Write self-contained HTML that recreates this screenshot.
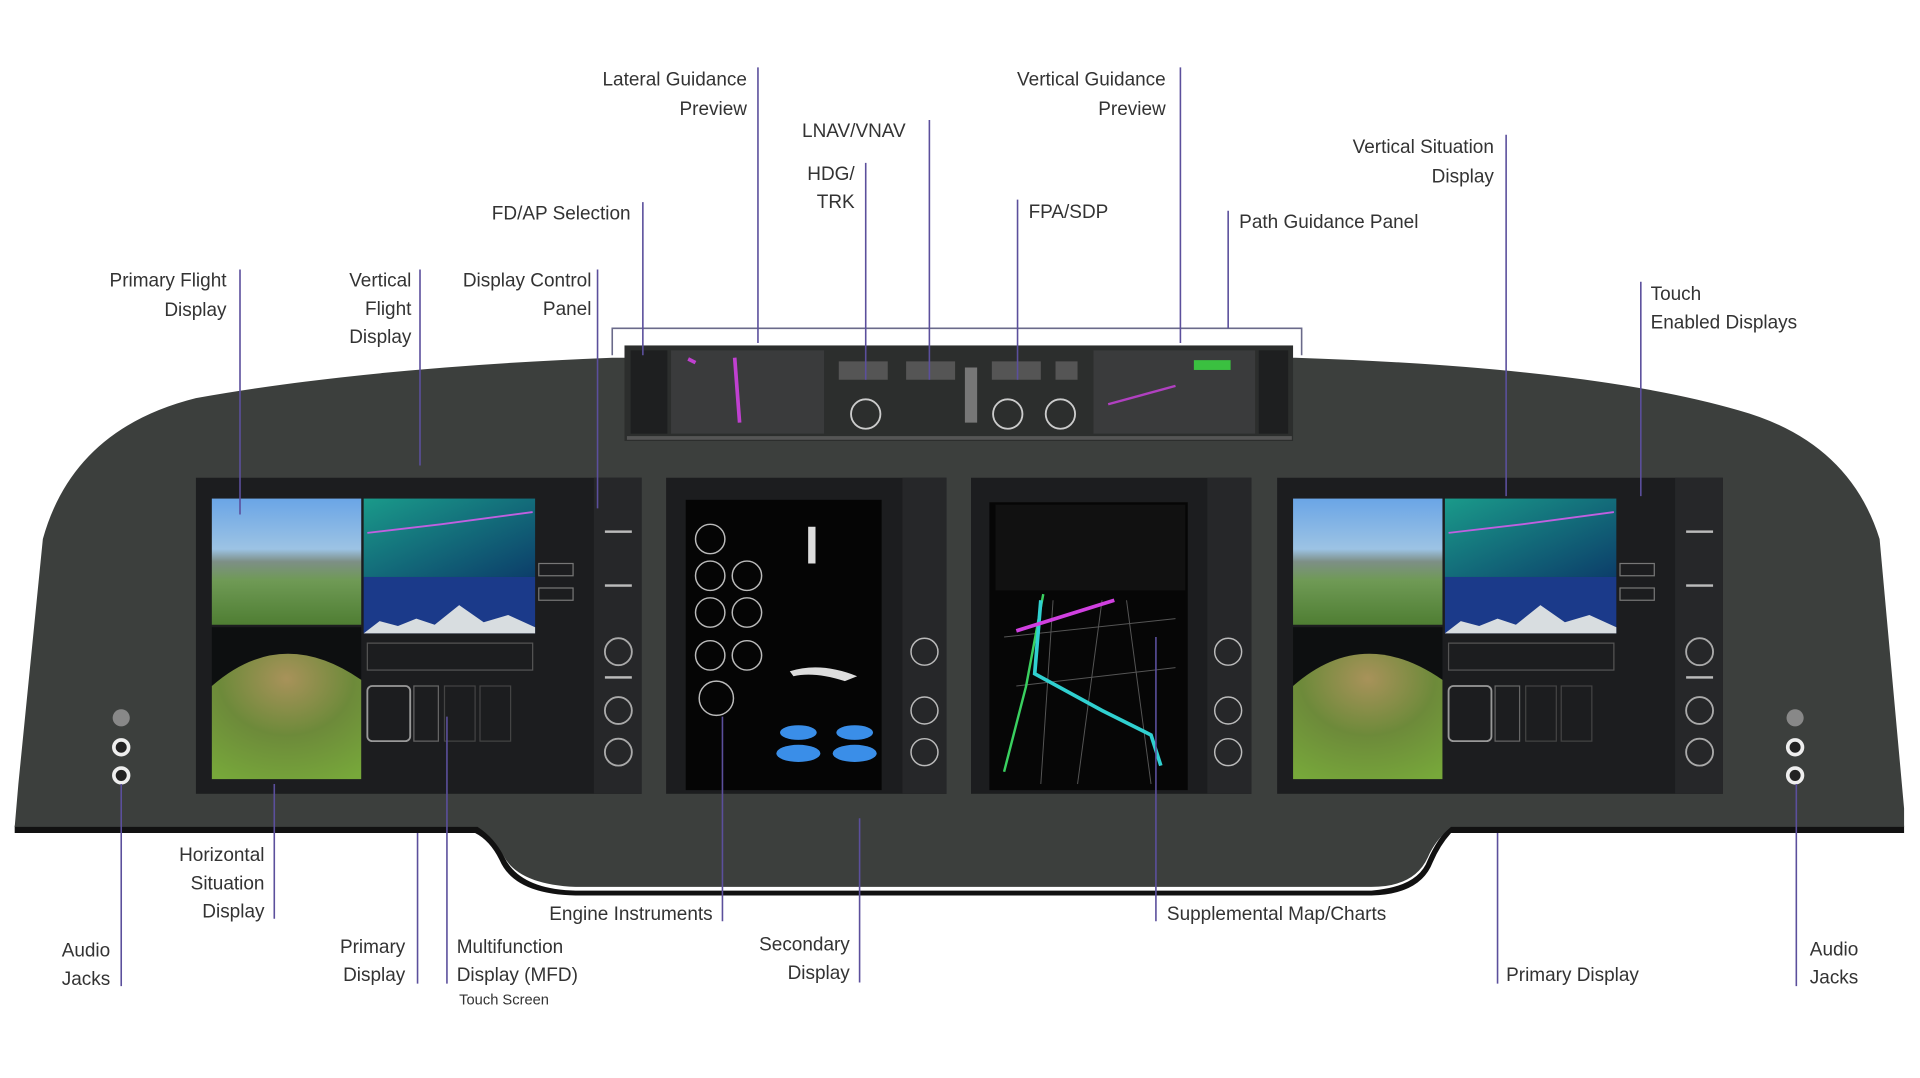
<!DOCTYPE html>
<html><head><meta charset="utf-8"><style>
html,body{margin:0;padding:0;background:#fff;overflow:hidden}
svg{display:block}
text{font-family:"Liberation Sans",sans-serif;font-size:15.5px;fill:#333}
.l{stroke:#5b4f9c;stroke-width:1.3;fill:none}
</style></head><body>
<svg width="1920" height="1078" viewBox="0 0 1568 880" preserveAspectRatio="none" xmlns="http://www.w3.org/2000/svg">
<defs>
<linearGradient id="sky" x1="0" y1="0" x2="0" y2="1"><stop offset="0" stop-color="#6aa5e6"/><stop offset="0.4" stop-color="#9cc3e4"/><stop offset="0.5" stop-color="#7d8f86"/><stop offset="0.65" stop-color="#6f9a55"/><stop offset="1" stop-color="#4f7e33"/></linearGradient>
<linearGradient id="vsd" x1="0" y1="0" x2="1" y2="1"><stop offset="0" stop-color="#1a9a8a"/><stop offset="1" stop-color="#0c3e6a"/></linearGradient>
<radialGradient id="hsd" cx="0.5" cy="0.2" r="0.9"><stop offset="0" stop-color="#a8925a"/><stop offset="0.5" stop-color="#6d8a3a"/><stop offset="1" stop-color="#77a83a"/></radialGradient>
<g id="big">
<rect x="0" y="0" width="364" height="258" fill="#1c1d1f"/>
<rect x="13" y="17" width="122" height="103" fill="url(#sky)"/>
<rect x="137" y="17" width="140" height="64" fill="url(#vsd)"/>
<rect x="137" y="81" width="140" height="46" fill="#1b3a8a"/>
<path d="M137 127 L150 117 L165 121 L180 115 L195 120 L215 104 L235 118 L255 112 L277 122 L277 127 Z" fill="#d8dde0"/>
<path d="M140 45 L200 38 L275 28" stroke="#c060e0" stroke-width="1.5" fill="none"/>
<rect x="13" y="122" width="122" height="124" fill="#0d0f10"/>
<path d="M13 246 L13 170 Q70 120 135 165 L135 246 Z" fill="url(#hsd)"/>
<rect x="140" y="135" width="135" height="22" fill="none" stroke="#555" stroke-width="1"/>
<rect x="140" y="170" width="35" height="45" rx="4" fill="none" stroke="#999" stroke-width="1.5"/>
<rect x="178" y="170" width="20" height="45" fill="none" stroke="#666"/>
<rect x="203" y="170" width="25" height="45" fill="none" stroke="#444"/>
<rect x="232" y="170" width="25" height="45" fill="none" stroke="#444"/>
<rect x="280" y="70" width="28" height="10" fill="none" stroke="#777"/>
<rect x="280" y="90" width="28" height="10" fill="none" stroke="#777"/>
<rect x="325" y="0" width="39" height="258" fill="#262729"/>
<g fill="none" stroke="#aaa" stroke-width="1.5"><circle cx="345" cy="142" r="11"/><circle cx="345" cy="190" r="11"/><circle cx="345" cy="224" r="11"/></g>
<g fill="#bbb"><rect x="334" y="43" width="22" height="2"/><rect x="334" y="87" width="22" height="2"/><rect x="334" y="162" width="22" height="2"/></g>
</g>
</defs>
<!-- dashboard shadow -->
<path d="M12 674 L390 674 Q405 684 412 700 Q425 726 470 727 L1120 727 Q1158 724 1166 702 Q1174 684 1185 674 L1555 674 L1555 680 L1185 680 Q1176 690 1170 704 Q1160 730 1120 731 L470 731 Q420 730 408 702 Q400 686 388 680 L12 680 Z" fill="#111"/>
<!-- dashboard -->
<path d="M35 440 Q60 350 160 325 Q300 300 500 292 L1058 292 Q1300 300 1420 335 Q1510 360 1535 440 L1555 660 L1555 675 L1185 675 Q1172 686 1166 700 Q1155 724 1120 724 L470 724 Q425 722 412 700 Q404 684 390 675 L12 675 L15 640 Z" fill="#3c3f3d"/>
<!-- top panel -->
<rect x="510" y="282" width="546" height="78" fill="#2c2e2d"/>
<rect x="515" y="286" width="30" height="68" fill="#1e1f20"/>
<rect x="548" y="286" width="125" height="68" fill="#3a3b3c"/>
<rect x="893" y="286" width="132" height="68" fill="#3a3b3c"/>
<rect x="1028" y="286" width="24" height="68" fill="#1e1f20"/>
<path d="M562 293 L568 296 M600 292 L604 345" stroke="#c040d0" stroke-width="3"/>
<rect x="975" y="294" width="30" height="8" fill="#3ac040"/>
<path d="M905 330 L960 315" stroke="#b040c0" stroke-width="2"/>
<g fill="none" stroke="#ccc" stroke-width="1.5"><circle cx="707" cy="338" r="12"/><circle cx="823" cy="338" r="12"/><circle cx="866" cy="338" r="12"/></g>
<g fill="#555"><rect x="685" y="295" width="40" height="15"/><rect x="740" y="295" width="40" height="15"/><rect x="810" y="295" width="40" height="15"/><rect x="862" y="295" width="18" height="15"/></g>
<rect x="788" y="300" width="10" height="45" fill="#777"/>
<rect x="512" y="356" width="543" height="3" fill="#555"/>
<!-- screens -->
<use href="#big" x="160" y="390"/>
<use href="#big" x="1043" y="390"/>
<rect x="544" y="390" width="229" height="258" fill="#1c1d1f"/>
<rect x="560" y="408" width="160" height="237" fill="#050505"/>
<rect x="737" y="390" width="36" height="258" fill="#262729"/>
<g fill="none" stroke="#bbb" stroke-width="1.2"><circle cx="580" cy="440" r="12"/><circle cx="580" cy="470" r="12"/><circle cx="610" cy="470" r="12"/><circle cx="580" cy="500" r="12"/><circle cx="610" cy="500" r="12"/><circle cx="580" cy="535" r="12"/><circle cx="610" cy="535" r="12"/><circle cx="585" cy="570" r="14"/><circle cx="755" cy="532" r="11"/><circle cx="755" cy="580" r="11"/><circle cx="755" cy="614" r="11"/></g>
<rect x="660" y="430" width="6" height="30" fill="#ddd"/>
<path d="M645 548 Q670 540 700 552 L690 556 Q665 548 648 552 Z" fill="#ddd"/>
<g fill="#3a8ee8"><ellipse cx="652" cy="598" rx="15" ry="6"/><ellipse cx="698" cy="598" rx="15" ry="6"/><ellipse cx="652" cy="615" rx="18" ry="7"/><ellipse cx="698" cy="615" rx="18" ry="7"/></g>
<rect x="793" y="390" width="229" height="258" fill="#1c1d1f"/>
<rect x="808" y="410" width="162" height="235" fill="#060606"/>
<rect x="813" y="412" width="155" height="70" fill="#111"/>
<rect x="986" y="390" width="36" height="258" fill="#262729"/>
<g fill="none" stroke="#bbb" stroke-width="1.2"><circle cx="1003" cy="532" r="11"/><circle cx="1003" cy="580" r="11"/><circle cx="1003" cy="614" r="11"/></g>
<g stroke="#555" stroke-width="0.8"><path d="M820 520 L960 505 M830 560 L960 545 M860 490 L850 640 M900 490 L880 640 M920 490 L940 640"/></g>
<path d="M852 485 L838 560 L820 630" stroke="#3ad060" stroke-width="2" fill="none"/>
<path d="M850 490 L845 550 L900 580 L940 600 L948 625" stroke="#30d0d0" stroke-width="3" fill="none"/>
<path d="M830 515 L910 490" stroke="#d040e0" stroke-width="3"/>
<!-- audio jacks -->
<g fill="#888"><circle cx="99" cy="586" r="7"/><circle cx="1466" cy="586" r="7"/></g>
<g fill="#222" stroke="#eee" stroke-width="3"><circle cx="99" cy="610" r="6"/><circle cx="99" cy="633" r="6"/><circle cx="1466" cy="610" r="6"/><circle cx="1466" cy="633" r="6"/></g>
<!-- bracket -->
<path class="l" d="M500 290 L500 268 L1063 268 L1063 290" style="stroke:#6a6a8a"/>
<!-- leader lines -->
<g class="l">
<path d="M196 220V420M343 220V380M488 220V415M525 165V290M619 55V280M759 98V310M707 133V310M831 163V310M964 55V280M1003 172V268M1230 110V405M1340 230V405"/>
<path d="M99 640V805M224 640V750M341 680V803M365 585V803M590 585V752M702 668V802M944 520V752M1223 680V803M1467 640V805"/>
</g>
<!-- labels -->
<g text-anchor="end">
<text x="185" y="234">Primary Flight</text><text x="185" y="258">Display</text>
<text x="336" y="234">Vertical</text><text x="336" y="257">Flight</text><text x="336" y="280">Display</text>
<text x="483" y="234">Display Control</text><text x="483" y="257">Panel</text>
<text x="515" y="179">FD/AP Selection</text>
<text x="610" y="70">Lateral Guidance</text><text x="610" y="94">Preview</text>
<text x="698" y="147">HDG/</text><text x="698" y="170">TRK</text>
<text x="952" y="70">Vertical Guidance</text><text x="952" y="94">Preview</text>
<text x="1220" y="125">Vertical Situation</text><text x="1220" y="149">Display</text>
<text x="90" y="781">Audio</text><text x="90" y="804">Jacks</text>
<text x="216" y="703">Horizontal</text><text x="216" y="726">Situation</text><text x="216" y="749">Display</text>
<text x="331" y="778">Primary</text><text x="331" y="801">Display</text>
<text x="582" y="751">Engine Instruments</text>
<text x="694" y="776">Secondary</text><text x="694" y="799">Display</text>
</g>
<text x="655" y="112">LNAV/VNAV</text>
<text x="840" y="178">FPA/SDP</text>
<text x="1012" y="186">Path Guidance Panel</text>
<text x="1348" y="245">Touch</text><text x="1348" y="268">Enabled Displays</text>
<text x="373" y="778">Multifunction</text><text x="373" y="801">Display (MFD)</text>
<text x="375" y="820" style="font-size:12px">Touch Screen</text>
<text x="953" y="751">Supplemental Map/Charts</text>
<text x="1230" y="801">Primary Display</text>
<text x="1478" y="780">Audio</text><text x="1478" y="803">Jacks</text>
</svg>
</body></html>
